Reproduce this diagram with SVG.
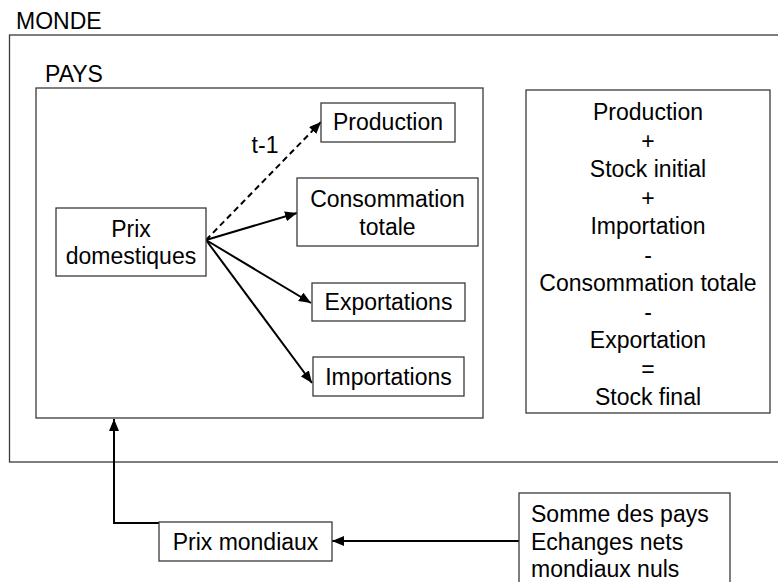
<svg xmlns="http://www.w3.org/2000/svg" width="778" height="582" viewBox="0 0 778 582">
<style>
text { font-family: "Liberation Sans", Arial, sans-serif; font-size: 23px; fill: #000; }
.c { text-anchor: middle; }
.box { fill: #fff; stroke: #3a3a3a; stroke-width: 1.3; }
.frame { fill: none; stroke: #3a3a3a; stroke-width: 1.3; }
.arr { fill: none; stroke: #000; stroke-width: 2; marker-end: url(#ah); }
.dash { stroke-dasharray: 6 4; }
</style>
<defs>
<marker id="ah" markerUnits="userSpaceOnUse" markerWidth="14" markerHeight="10" refX="12" refY="5" orient="auto">
<path d="M0,0 L12,5 L0,10 Z" fill="#000"/>
</marker>
</defs>
<g id="monde">
<rect class="frame" x="9.5" y="35" width="800" height="427"/>
<text x="16" y="29">MONDE</text>
</g>
<g id="pays">
<rect class="frame" x="36" y="88" width="447" height="330"/>
<text x="45" y="82">PAYS</text>
</g>
<g id="connectors">
<line class="arr dash" x1="206" y1="240" x2="321" y2="122"/>
<line class="arr" x1="206" y1="240" x2="297" y2="213"/>
<line class="arr" x1="206" y1="240" x2="311" y2="303"/>
<line class="arr" x1="206" y1="240" x2="312" y2="383"/>
<polyline class="arr" points="159,523 114,523 114,419"/>
<line class="arr" x1="519" y1="541" x2="332" y2="541"/>
</g>
<g id="t1"><text class="c" x="265" y="153">t-1</text></g>
<g id="prix-domestiques">
<rect class="box" x="56" y="208" width="150" height="68"/>
<text class="c" x="131" y="237">Prix</text>
<text class="c" x="131" y="264">domestiques</text>
</g>
<g id="production">
<rect class="box" x="321" y="103" width="134" height="39"/>
<text class="c" x="388" y="130">Production</text>
</g>
<g id="consommation">
<rect class="box" x="297" y="178" width="181" height="68"/>
<text class="c" x="387.5" y="207">Consommation</text>
<text class="c" x="387.5" y="235">totale</text>
</g>
<g id="exportations">
<rect class="box" x="312" y="283" width="153" height="38"/>
<text class="c" x="388.5" y="310">Exportations</text>
</g>
<g id="importations">
<rect class="box" x="313" y="357" width="151" height="39"/>
<text class="c" x="388.5" y="385">Importations</text>
</g>
<g id="bilan">
<rect class="box" x="526" y="90" width="244" height="323"/>
<text class="c" x="648" y="120">Production</text>
<text class="c" x="648" y="148.5">+</text>
<text class="c" x="648" y="177">Stock initial</text>
<text class="c" x="648" y="205.5">+</text>
<text class="c" x="648" y="234">Importation</text>
<text class="c" x="648" y="262.5">-</text>
<text class="c" x="648" y="291">Consommation totale</text>
<text class="c" x="648" y="319.5">-</text>
<text class="c" x="648" y="348">Exportation</text>
<text class="c" x="648" y="376.5">=</text>
<text class="c" x="648" y="405">Stock final</text>
</g>
<g id="prix-mondiaux">
<rect class="box" x="159" y="522" width="173" height="39"/>
<text class="c" x="245.5" y="550">Prix mondiaux</text>
</g>
<g id="somme">
<rect class="box" x="519" y="493" width="211" height="100"/>
<text x="531" y="522">Somme des pays</text>
<text x="531" y="550">Echanges nets</text>
<text x="531" y="577">mondiaux nuls</text>
</g>
</svg>
